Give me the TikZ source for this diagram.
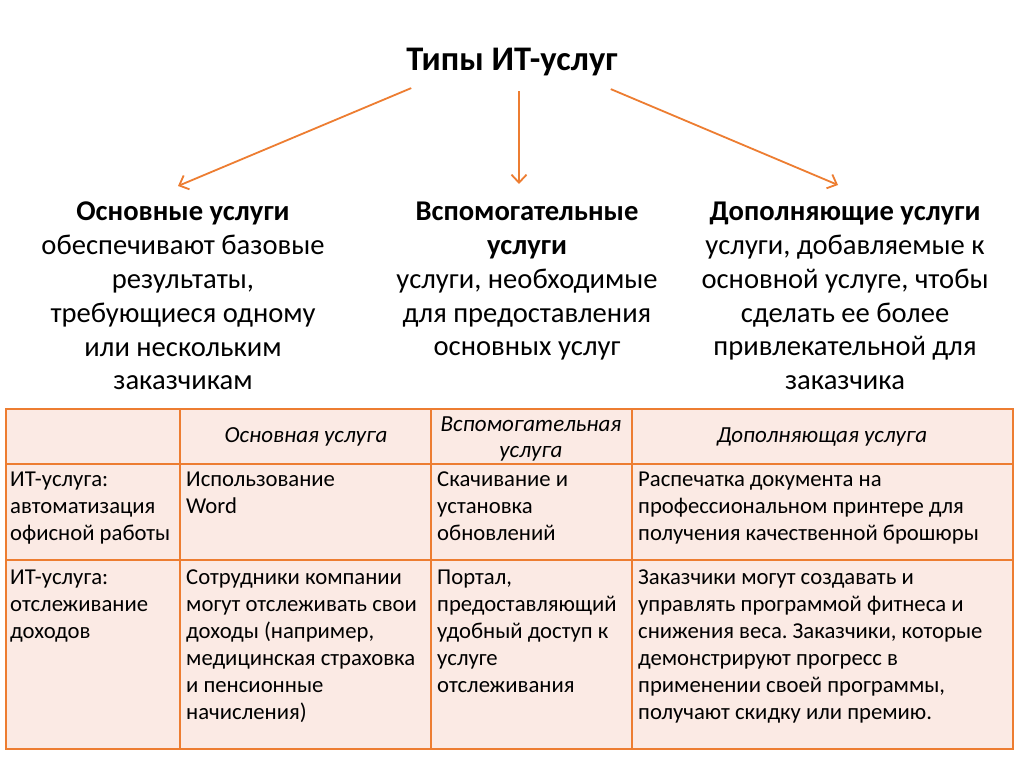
\documentclass[tikz,border=0pt]{standalone}
\usepackage{fontspec}
\setmainfont{Carlito}
\usetikzlibrary{arrows.meta}
\definecolor{itorange}{RGB}{237,125,49}
\definecolor{itpink}{RGB}{251,234,228}
\frenchspacing

\begin{document}
\begin{tikzpicture}[
    x=1pt, y=-1pt,
    grid/.style={draw=itorange, line width=1.6pt},
    arrow/.style={-{Straight Barb[length=8pt,width=15pt]}, line width=1.8pt, color=itorange},
    title/.style={font=\fontsize{34.5}{40}\selectfont\bfseries, inner sep=0pt},
    head/.style={font=\fontsize{28.6}{33.8}\selectfont, align=center, anchor=north, inner sep=0pt},
    colhead/.style={font=\fontsize{23}{26}\selectfont\itshape, align=center, inner sep=0pt},
    body/.style={font=\fontsize{22.7}{27}\selectfont, align=left, anchor=north west, inner sep=0pt,
        execute at begin node=\strut}
]
\useasboundingbox[fill=white] (0,0) rectangle (1024,767);

% Title and the three kinds
\node[title] (types) at (512,62) {Типы ИТ-услуг};
\node[head] (basic) at (183,202) {\textbf{Основные услуги}\\обеспечивают базовые\\результаты,\\требующиеся одному\\или нескольким\\заказчикам};
\node[head] (support) at (527,202) {\textbf{Вспомогательные}\\\textbf{услуги}\\услуги, необходимые\\для предоставления\\основных услуг};
\node[head] (extra) at (845,202) {\textbf{Дополняющие услуги}\\услуги, добавляемые к\\основной услуге, чтобы\\сделать ее более\\привлекательной для\\заказчика};

% Arrows
\coordinate (basic-tip) at (178,186);
\coordinate (support-tip) at (519,184);
\coordinate (extra-tip) at (838,185);
\draw[arrow] ([shift={(5,12)}]types.south west) -- (basic-tip);
\draw[arrow] ([shift={(7,15)}]types.south) -- (support-tip);
\draw[arrow] ([shift={(-7,13)}]types.south east) -- (extra-tip);

% Table
\fill[itpink] (6,409) rectangle (1013,749);
\foreach \y in {464,560}
    \draw[grid] (6,\y) -- (1013,\y);
\foreach \x in {180,431,632}
    \draw[grid] (\x,409) -- (\x,749);
\draw[grid] (6,409) rectangle (1013,749);

\node[colhead] (h-basic) at (306,437) {Основная услуга};
\node[colhead] (h-support) at (531,439) {Вспомогательная\\услуга};
\node[colhead] (h-extra) at (822,437) {Дополняющая услуга};

\node[body] (office) at (10,472) {ИТ-услуга:\\автоматизация\\офисной работы};
\node[body] (office-basic) at (186,472) {Использование\\Word};
\node[body] (office-support) at (437,472) {Скачивание и\\установка\\обновлений};
\node[body] (office-extra) at (638,472) {Распечатка документа на\\профессиональном принтере для\\получения качественной брошюры};

\node[body] (income) at (10,570) {ИТ-услуга:\\отслеживание\\доходов};
\node[body] (income-basic) at (186,570) {Сотрудники компании\\могут отслеживать свои\\доходы (например,\\медицинская страховка\\и пенсионные\\начисления)};
\node[body] (income-support) at (437,570) {Портал,\\предоставляющий\\удобный доступ к\\услуге\\отслеживания};
\node[body] (income-extra) at (638,570) {Заказчики могут создавать и\\управлять программой фитнеса и\\снижения веса. Заказчики, которые\\демонстрируют прогресс в\\применении своей программы,\\получают скидку или премию.};
\end{tikzpicture}
\end{document}
